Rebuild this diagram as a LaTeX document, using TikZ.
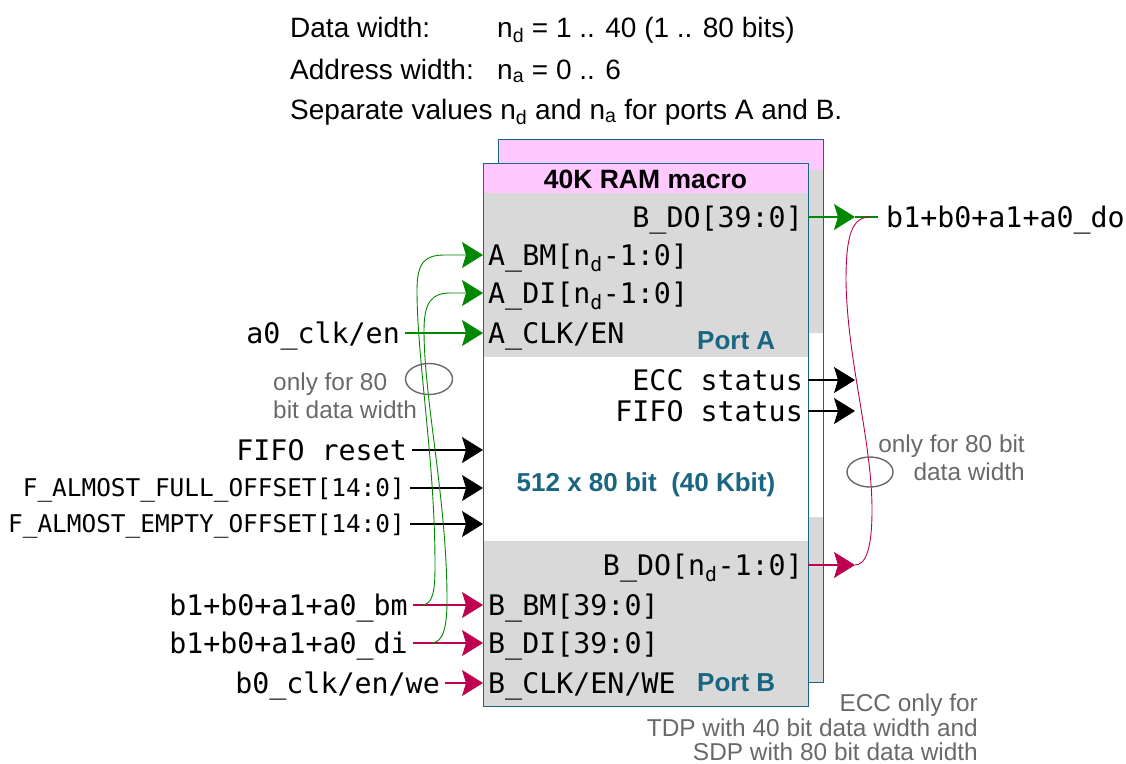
\documentclass[tikz,border=0pt]{standalone}
\usepackage{fontspec}
\setmainfont{Liberation Sans}
\setmonofont{DejaVu Sans Mono}
\usetikzlibrary{arrows.meta}
\definecolor{pinkh}{RGB}{255,200,255}
\definecolor{grayf}{RGB}{217,217,217}
\definecolor{tealc}{RGB}{26,102,130}
\definecolor{greenc}{RGB}{0,136,0}
\definecolor{magc}{RGB}{190,0,80}
\definecolor{grayt}{RGB}{105,105,105}
\begin{document}
\begin{tikzpicture}[x=1pt,y=-1pt,
  mono/.style={font=\ttfamily\fontsize{28.3}{30}\selectfont, inner ysep=0pt, inner xsep=5pt, text height=20.6pt, text depth=0pt},
  monos/.style={font=\ttfamily\fontsize{24.4}{26}\selectfont, inner ysep=0pt, inner xsep=5pt, text height=17.8pt, text depth=0pt},
  toptxt/.style={font=\fontsize{28}{30}\selectfont, inner sep=0pt},
  note/.style={font=\fontsize{24.4}{26}\selectfont, text=grayt, inner sep=0pt},
  portlbl/.style={font=\fontsize{26}{28}\selectfont\bfseries, text=tealc, inner sep=0pt},
  tipa/.style={-{Stealth[length=21pt,width=26pt,inset=4pt]}},
  sig/.style={tipa, line width=1.1pt},
  gcurve/.style={greenc, line width=0.9pt},
  mcurve/.style={magc, line width=0.9pt},
  ell/.style={draw=grayt, line width=1.4pt}
]
\useasboundingbox (0,0) rectangle (1126,763);

% top text
\node[toptxt, anchor=base west] (dw) at (290,37) {Data width:};
\node[toptxt, anchor=base west] (dwv) at (497,37) {n\textsubscript{d} = 1 .. 40 (1 .. 80 bits)};
\node[toptxt, anchor=base west] (aw) at (290,79) {Address width:};
\node[toptxt, anchor=base west] (awv) at (497,79) {n\textsubscript{a} = 0 .. 6};
\node[toptxt, anchor=base west] (sep) at (290,119) {Separate values n\textsubscript{d} and n\textsubscript{a} for ports A and B.};

% back box
\fill[pinkh] (498,139) rectangle (823,170);
\fill[grayf] (498,170) rectangle (823,333);
\fill[white] (498,333) rectangle (823,517);
\fill[grayf] (498,517) rectangle (823,682);
\node[draw=tealc, line width=1pt, minimum width=325pt, minimum height=543pt, anchor=north west, inner sep=0pt] (back) at (498,139) {};

% front box
\fill[white] (483,163) rectangle (808,706);
\fill[pinkh] (483,163) rectangle (808,193);
\fill[grayf] (483,193) rectangle (808,357);
\fill[grayf] (483,541) rectangle (808,706);
\node[draw=tealc, line width=1pt, minimum width=325pt, minimum height=543pt, anchor=north west, inner sep=0pt] (ram) at (483,163) {};

\node[font=\fontsize{26.5}{28}\selectfont\bfseries, anchor=base, inner sep=0pt] (title) at (645.5,188.5) {40K RAM macro};
\node[portlbl, anchor=base west] (porta) at (697,349) {Port A};
\node[portlbl, anchor=base west] (portb) at (697,691) {Port B};
\node[portlbl, anchor=base] (size) at (646,491) {512 x 80 bit\ \ (40 Kbit)};

% pins
\node[mono, anchor=east] (bdo) at (808,217) {B\_DO[39:0]};
\node[mono, anchor=west] (abm) at (483,255) {A\_BM[n\textsubscript{d}-1:0]};
\node[mono, anchor=west] (adi) at (483,293) {A\_DI[n\textsubscript{d}-1:0]};
\node[mono, anchor=west] (aclk) at (483,333) {A\_CLK/EN};
\node[mono, anchor=east] (ecc) at (808,380) {ECC status};
\node[mono, anchor=east] (fifos) at (808,411) {FIFO status};
\node[mono, anchor=east] (bdon) at (808,565) {B\_DO[n\textsubscript{d}-1:0]};
\node[mono, anchor=west] (bbm) at (483,605) {B\_BM[39:0]};
\node[mono, anchor=west] (bdi) at (483,643) {B\_DI[39:0]};
\node[mono, anchor=west] (bclk) at (483,683) {B\_CLK/EN/WE};
\coordinate (fin1) at (483,450);
\coordinate (fin2) at (483,488);
\coordinate (fin3) at (483,524);

% external labels
\node[mono, anchor=east] (a0clk) at (405,333) {a0\_clk/en};
\node[mono, anchor=east] (frst) at (412,450) {FIFO reset};
\node[monos, anchor=east] (faf) at (410,488) {F\_ALMOST\_FULL\_OFFSET[14:0]};
\node[monos, anchor=east] (fae) at (410,524) {F\_ALMOST\_EMPTY\_OFFSET[14:0]};
\node[mono, anchor=east] (xbm) at (413,605) {b1+b0+a1+a0\_bm};
\node[mono, anchor=east] (xdi) at (413,643) {b1+b0+a1+a0\_di};
\node[mono, anchor=east] (b0clk) at (445,683) {b0\_clk/en/we};
\node[mono, anchor=west, inner xsep=8pt] (xdo) at (878,217) {b1+b0+a1+a0\_do};

\coordinate (bdotip) at (855,217);
\coordinate (ecctip) at (855,380);
\coordinate (fifotip) at (855,411);
\coordinate (bdontip) at (855,565);

% notes
\node[note, anchor=base west] (n1a) at (273,390) {only for 80};
\node[note, anchor=base west] (n1b) at (273,418) {bit data width};
\node[note, anchor=base east] (n2a) at (1025,452) {only for 80 bit};
\node[note, anchor=base east] (n2b) at (1025,480) {data width};
\node[note, anchor=base east] (n3a) at (978,711) {ECC only for};
\node[note, anchor=base east] (n3b) at (978,736) {TDP with 40 bit data width and};
\node[note, anchor=base east] (n3c) at (978,760) {SDP with 80 bit data width};

% connectors
\draw[sig, greenc] (a0clk.east) -- (aclk.west);
\draw[sig, black] (frst.east) -- (fin1);
\draw[sig, black] (faf.east) -- (fin2);
\draw[sig, black] (fae.east) -- (fin3);
\draw[sig, magc] (xbm.east) -- (bbm.west);
\draw[sig, magc] (xdi.east) -- (bdi.west);
\draw[sig, magc] (b0clk.east) -- (bclk.west);

\draw[sig, greenc] (bdo.east) -- (bdotip);
\draw[greenc, line width=1.1pt] (bdotip) -- (xdo.west);
\draw[sig, black] (ecc.east) -- (ecctip);
\draw[sig, black] (fifos.east) -- (fifotip);
\draw[sig, magc] (bdon.east) -- (bdontip);

% green curves
\coordinate (gbm) at (421,605);
\coordinate (gdi) at (431,643);
\draw[gcurve, tipa] (gbm) .. controls (433,605) and (435,592) .. (435,565)
  .. controls (435,460) and (417,360) .. (417,290)
  .. controls (417,262) and (425,255) .. (445,255) -- (abm.west);
\draw[gcurve, tipa] (gdi) .. controls (443,643) and (447,628) .. (447,600)
  .. controls (447,500) and (424,400) .. (424,330)
  .. controls (424,302) and (432,293) .. (450,293) -- (adi.west);

% magenta curve
\coordinate (mcs) at (870,217);
\draw[mcurve] (mcs) .. controls (852,217) and (846,235) .. (846,280)
  .. controls (847,360) and (872,440) .. (872,510)
  .. controls (872,548) and (866,565) .. (bdontip);

% ellipses
\draw[ell] (429,379) ellipse [x radius=23.5pt, y radius=15.5pt];
\draw[ell] (870,472) ellipse [x radius=23pt, y radius=15pt];
\end{tikzpicture}
\end{document}
